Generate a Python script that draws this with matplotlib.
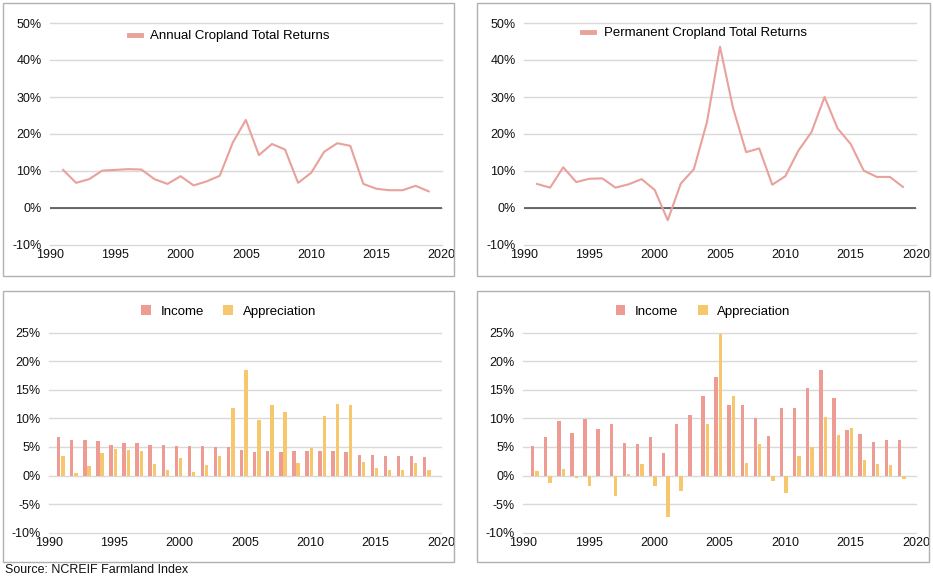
import matplotlib.pyplot as plt
from matplotlib.patches import Rectangle
from matplotlib.ticker import FuncFormatter

# NCREIF farmland returns, percent per year
years = list(range(1991, 2020))

annual_total = [10.3, 6.8, 7.8, 10.1, 10.3, 10.5, 10.4, 7.8, 6.5, 8.6, 6.1, 7.2, 8.7, 17.7, 23.8,
                14.3, 17.3, 15.8, 6.8, 9.5, 15.2, 17.5, 16.8, 6.5, 5.2, 4.8, 4.8, 6.0, 4.5]
perm_total = [6.5, 5.5, 11.0, 7.0, 7.9, 8.0, 5.5, 6.4, 7.8, 4.9, -3.3, 6.6, 10.5, 23.2, 43.6,
              27.0, 15.1, 16.1, 6.3, 8.6, 15.5, 20.5, 30.0, 21.5, 17.3, 10.1, 8.4, 8.4, 5.7]

annual_income = [6.7, 6.2, 6.2, 6.1, 5.4, 5.7, 5.7, 5.4, 5.4, 5.2, 5.2, 5.2, 5.0, 5.0, 4.5,
                 4.1, 4.3, 4.1, 4.3, 4.3, 4.3, 4.3, 4.1, 3.6, 3.6, 3.5, 3.5, 3.5, 3.2]
annual_apprec = [3.4, 0.4, 1.6, 3.9, 4.6, 4.5, 4.3, 2.0, 1.0, 3.1, 0.6, 1.8, 3.4, 11.9, 18.4,
                 9.7, 12.4, 11.1, 2.2, 4.8, 10.5, 12.5, 12.3, 2.4, 1.3, 1.0, 1.0, 2.2, 1.0]

perm_income = [5.2, 6.7, 9.5, 7.4, 9.9, 8.1, 9.0, 5.7, 5.5, 6.7, 4.0, 9.0, 10.6, 14.0, 17.2,
               12.4, 12.4, 10.1, 7.0, 11.8, 11.9, 15.4, 18.5, 13.5, 8.0, 7.2, 5.9, 6.2, 6.2]
perm_apprec = [0.8, -1.3, 1.1, -0.5, -1.9, -0.1, -3.5, 0.35, 2.0, -1.9, -7.3, -2.7, 0.0, 9.1, 24.7,
               14.0, 2.2, 5.5, -0.9, -3.0, 3.4, 5.0, 10.2, 7.1, 8.4, 2.7, 2.1, 1.9, -0.6]

line_color = '#E8A19B'
income_color = '#EE9B94'
apprec_color = '#F6C76C'
grid_color = '#D9D9D9'

plt.rcParams['font.family'] = ['Liberation Sans', 'DejaVu Sans']

W, H = 933, 578
fig = plt.figure(figsize=(W / 100, H / 100), dpi=100)


def px_axes(x0, x1, y_top, y_bot):
    # pixel box (from top-left) -> figure fraction axes
    return fig.add_axes([x0 / W, 1 - y_bot / H, (x1 - x0) / W, (y_bot - y_top) / H])


def style_axes(ax, ymin, ymax, step):
    ax.set_xlim(1990, 2020)
    ax.set_ylim(ymin, ymax)
    ax.set_xticks(range(1990, 2021, 5))
    ax.set_yticks(range(ymin, ymax + 1, step))
    ax.yaxis.set_major_formatter(FuncFormatter(lambda v, p: '%d%%' % v))
    ax.grid(axis='y', color=grid_color, linewidth=1)
    for g in ax.get_ygridlines():
        g.set_clip_on(False)
    ax.set_axisbelow(True)
    for s in ax.spines.values():
        s.set_visible(False)
    ax.tick_params(length=0, labelsize=9, colors='#111111')
    ax.tick_params(axis='y', pad=6)
    ax.tick_params(axis='x', pad=3)


def panel_box(x0, y0, x1, y1):
    fig.patches.append(Rectangle((x0 / W, 1 - y1 / H), (x1 - x0) / W, (y1 - y0) / H,
                                 transform=fig.transFigure, fill=False,
                                 edgecolor='#B0B0B0', linewidth=1))


# panel borders
panel_box(3, 3, 454, 276)
panel_box(477, 3, 930, 276)
panel_box(3, 291, 454, 562)
panel_box(477, 291, 929, 562)

# top: total returns lines
ax1 = px_axes(50, 441.7, 23, 245)
ax2 = px_axes(524, 916, 23, 245)
for ax, vals, name, lx, ly in [(ax1, annual_total, 'Annual Cropland Total Returns', 0.457, 0.941),
                               (ax2, perm_total, 'Permanent Cropland Total Returns', 0.435, 0.954)]:
    style_axes(ax, -10, 50, 10)
    ax.axhline(0, color='#444444', linewidth=1.1)
    ax.plot(years, vals, color=line_color, linewidth=1.5, label=name)
    ax.legend(loc='center', bbox_to_anchor=(lx, ly), frameon=False, fontsize=9.5,
              handlelength=0.9, handletextpad=0.7, borderaxespad=0)
    for h in ax.get_legend().get_lines():
        h.set_linewidth(3.5)

# bottom: income vs appreciation bars
ax3 = px_axes(49, 441, 332.7, 532.7)
ax4 = px_axes(523, 916, 332.7, 532.7)
bw = 0.26
for ax, inc, app in [(ax3, annual_income, annual_apprec), (ax4, perm_income, perm_apprec)]:
    style_axes(ax, -10, 25, 5)
    ax.bar([y - 0.26 for y in years], inc, width=bw, color=income_color, label='Income')
    ax.bar([y + 0.07 for y in years], app, width=bw, color=apprec_color, label='Appreciation')
    ax.legend(loc='center', bbox_to_anchor=(0.458, 1.107), ncol=2, frameon=False, fontsize=9.5,
              handlelength=0.75, handleheight=0.75, handletextpad=0.7, columnspacing=1.5,
              borderaxespad=0)

fig.text(5 / W, 1 - 570 / H, 'Source: NCREIF Farmland Index', fontsize=9, va='center',
         ha='left', color='#111111')

fig.savefig('out.png', dpi=100)
